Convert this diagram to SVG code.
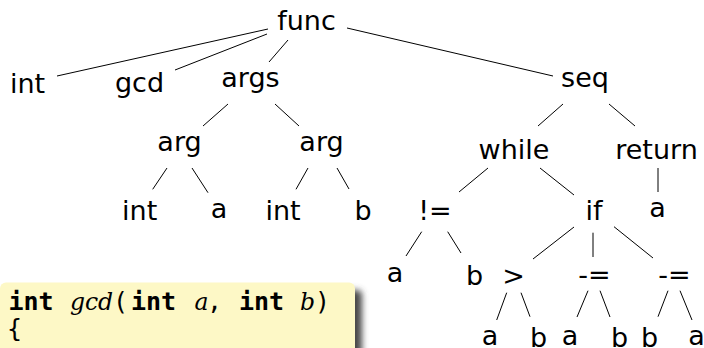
<svg xmlns="http://www.w3.org/2000/svg" width="704" height="348" viewBox="0 0 704 348">
<style>
.n{font-family:"DejaVu Sans","Liberation Sans",sans-serif;font-size:27px;fill:#000;text-anchor:middle}
.e line{stroke:#000;stroke-width:1}
.kw{font-family:"DejaVu Sans Mono","Liberation Mono",monospace;font-weight:bold;font-size:25px;text-anchor:middle}
.mo{font-family:"DejaVu Sans Mono","Liberation Mono",monospace;font-size:25px;text-anchor:middle}
.id{font-family:"DejaVu Serif","Liberation Serif",serif;font-style:italic;font-size:23.5px;text-anchor:middle}
</style>
<defs>
<filter id="sh" x="-20%" y="-20%" width="140%" height="140%"><feGaussianBlur stdDeviation="3"/></filter>
</defs>
<rect width="704" height="348" fill="#fff"/>
<g id="connectors" class="e">
<line x1="268" y1="29" x2="57" y2="76"/>
<line x1="267" y1="34" x2="175" y2="70"/>
<line x1="288" y1="40" x2="269" y2="62"/>
<line x1="347" y1="28" x2="553" y2="76"/>
<line x1="228" y1="104" x2="203" y2="126"/>
<line x1="275" y1="104" x2="299" y2="126"/>
<line x1="167" y1="168" x2="152.7" y2="189.3"/>
<line x1="192" y1="168" x2="208" y2="192.7"/>
<line x1="308" y1="168" x2="296" y2="189.3"/>
<line x1="337" y1="168" x2="349" y2="189"/>
<line x1="563" y1="104" x2="538" y2="126"/>
<line x1="609" y1="104" x2="635" y2="126"/>
<line x1="488" y1="168" x2="459" y2="192"/>
<line x1="540" y1="168" x2="574" y2="195"/>
<line x1="658" y1="168" x2="658" y2="192"/>
<line x1="421.7" y1="231.7" x2="406" y2="256"/>
<line x1="447.7" y1="231.7" x2="461" y2="253"/>
<line x1="574" y1="227" x2="533" y2="259"/>
<line x1="593" y1="232.7" x2="593" y2="257"/>
<line x1="614" y1="226.7" x2="653" y2="258"/>
<line x1="506.7" y1="292.7" x2="496.7" y2="320"/>
<line x1="521" y1="292.7" x2="530" y2="316.7"/>
<line x1="588" y1="290.7" x2="577" y2="317"/>
<line x1="600" y1="290.7" x2="610" y2="317"/>
<line x1="668" y1="290.7" x2="658" y2="316.7"/>
<line x1="680" y1="290.7" x2="692" y2="320"/>
</g>
<g id="n-func"><text class="n" x="306.5" y="30">func</text></g>
<g id="n-int1"><text class="n" x="27.5" y="92.5">int</text></g>
<g id="n-gcd"><text class="n" x="139.5" y="91.5">gcd</text></g>
<g id="n-args"><text class="n" x="250.5" y="87">args</text></g>
<g id="n-seq"><text class="n" x="585" y="87">seq</text></g>
<g id="n-arg1"><text class="n" x="179.5" y="151">arg</text></g>
<g id="n-arg2"><text class="n" x="321.5" y="151">arg</text></g>
<g id="n-while"><text class="n" x="514" y="159">while</text></g>
<g id="n-return"><text class="n" x="656.5" y="159">return</text></g>
<g id="n-int2"><text class="n" x="139.7" y="220">int</text></g>
<g id="n-a1"><text class="n" x="219" y="217.7">a</text></g>
<g id="n-int3"><text class="n" x="283" y="220">int</text></g>
<g id="n-b1"><text class="n" x="363" y="220">b</text></g>
<g id="n-ne"><text class="n" x="435" y="220">!=</text></g>
<g id="n-if"><text class="n" x="594" y="220">if</text></g>
<g id="n-a2"><text class="n" x="657.5" y="217">a</text></g>
<g id="n-a3"><text class="n" x="395" y="281.7">a</text></g>
<g id="n-b2"><text class="n" x="474.5" y="285">b</text></g>
<g id="n-gt"><text class="n" x="513.5" y="285">&gt;</text></g>
<g id="n-sub1"><text class="n" x="594.5" y="284">-=</text></g>
<g id="n-sub2"><text class="n" x="674.5" y="284">-=</text></g>
<g id="n-a4"><text class="n" x="490" y="345">a</text></g>
<g id="n-b3"><text class="n" x="538.5" y="346.7">b</text></g>
<g id="n-a5"><text class="n" x="570" y="345">a</text></g>
<g id="n-b4"><text class="n" x="619.5" y="346.7">b</text></g>
<g id="n-b5"><text class="n" x="649.5" y="346.7">b</text></g>
<g id="n-a6"><text class="n" x="696.5" y="345">a</text></g>
<g id="code">
<rect x="8" y="290" width="354" height="90" rx="5" fill="#4a4a4a" filter="url(#sh)"/>
<rect x="0" y="282.5" width="355" height="90" rx="6" fill="#fdf8c6"/>
<text class="kw" x="31" y="309.5">int</text>
<text class="id" x="91.5" y="309.5">gcd</text>
<text class="mo" x="120.5" y="309.5">(</text>
<text class="kw" x="153.5" y="309.5">int</text>
<text class="id" x="201.5" y="309.5">a</text>
<text class="mo" x="214.5" y="309.5">,</text>
<text class="kw" x="261.5" y="309.5">int</text>
<text class="id" x="307.5" y="309.5">b</text>
<text class="mo" x="322.5" y="309.5">)</text>
<text class="mo" x="14.5" y="337">{</text>
</g>
</svg>
